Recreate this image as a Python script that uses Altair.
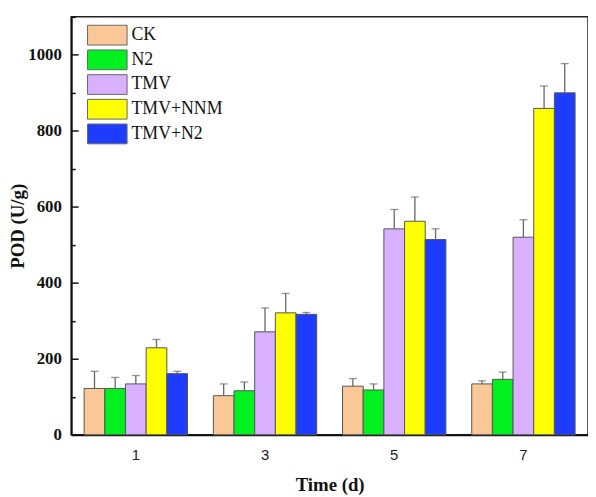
import altair as alt
import pandas as pd

days = ["1", "3", "5", "7"]
groups = ["CK", "N2", "TMV", "TMV+NNM", "TMV+N2"]
colors = ["#F9C896", "#00F020", "#D8B0FF", "#FFFF00", "#1E3CFF"]

values = {
    "CK":      [122, 103, 128, 134],
    "N2":      [122, 116, 118, 146],
    "TMV":     [134, 271, 542, 520],
    "TMV+NNM": [229, 321, 562, 859],
    "TMV+N2":  [161, 317, 514, 900],
}
errors = {
    "CK":      [45, 31, 20, 8],
    "N2":      [29, 23, 16, 19],
    "TMV":     [22, 63, 51, 46],
    "TMV+NNM": [22, 51, 64, 59],
    "TMV+N2":  [6, 5, 28, 77],
}

major_ticks = [0, 200, 400, 600, 800, 1000]
minor_ticks = [100, 300, 500, 700, 900, 1100]

rows = []
for g in groups:
    for i, d in enumerate(days):
        rows.append({"day": d, "group": g, "value": values[g][i],
                     "upper": values[g][i] + errors[g][i]})
df = pd.DataFrame(rows)

serif = "Liberation Serif"
yscale = alt.Scale(domain=[0, 1100], nice=False)
xenc = alt.X("day:N", sort=days, scale=alt.Scale(paddingInner=0.2, paddingOuter=0.1),
             axis=alt.Axis(title="Time (d)", labelAngle=0, ticks=False, labelFont="Liberation Sans",
                           labelFontSize=15, labelColor="#222", labelPadding=13,
                           titleFont=serif, titleFontSize=19, titleFontWeight="bold",
                           titleColor="#111", titlePadding=13, domainColor="#111", domainWidth=2))
xoff = alt.XOffset("group:N", sort=groups, scale=alt.Scale(paddingInner=0, paddingOuter=0))

base = alt.Chart(df)

bars = base.mark_bar(stroke="#555", strokeWidth=1).encode(
    x=xenc,
    xOffset=xoff,
    y=alt.Y("value:Q", scale=yscale,
            axis=alt.Axis(title="POD (U/g)", values=major_ticks, ticks=False, labelPadding=10,
                          format="d",
                          labelFont=serif, labelFontSize=17, labelFontWeight="bold", labelColor="#111",
                          titleFont=serif, titleFontSize=19, titleFontWeight="bold", titleColor="#111",
                          titlePadding=0, domainColor="#111", domainWidth=2, grid=False, orient="left")),
    color=alt.Color("group:N", sort=groups, scale=alt.Scale(domain=groups, range=colors),
                    legend=alt.Legend(title=None, orient="none", legendX=26, legendY=8,
                                      symbolType="M-2,-1H2V1H-2Z", symbolSize=400,
                                      symbolStrokeColor="#666", symbolStrokeWidth=1,
                                      symbolOpacity=1,
                                      labelFont=serif, labelFontSize=18, labelColor="#111",
                                      labelOffset=14, rowPadding=0)),
)

rules = base.mark_rule(color="#666", strokeWidth=1.3).encode(
    x=alt.X("day:N", sort=days), xOffset=xoff,
    y=alt.Y("value:Q", scale=yscale), y2="upper:Q")

caps = base.mark_tick(color="#666", thickness=1.3, size=8).encode(
    x=alt.X("day:N", sort=days), xOffset=xoff,
    y=alt.Y("upper:Q", scale=yscale))

major_df = pd.DataFrame({"t": major_ticks})
minor_df = pd.DataFrame({"t": minor_ticks})

major = alt.Chart(major_df).mark_point(opacity=0).encode(
    y=alt.Y("t:Q", scale=yscale,
            axis=alt.Axis(title=None, values=major_ticks, labels=False, domain=False, grid=False,
                          tickSize=7, tickWidth=1.5, tickColor="#111", offset=-7, orient="left")))
minor = alt.Chart(minor_df).mark_point(opacity=0).encode(
    y=alt.Y("t:Q", scale=yscale,
            axis=alt.Axis(title=None, values=minor_ticks, labels=False, domain=False, grid=False,
                          tickSize=4, tickWidth=1.5, tickColor="#111", offset=-4, orient="left")))

chart = alt.layer(bars, rules, caps, major, minor).resolve_scale(y="shared").resolve_axis(
    y="independent").properties(
    width=523, height=423,
    autosize=alt.AutoSizeParams(type="none"),
    padding={"left": 64, "top": 6, "right": 0, "bottom": 62},
).configure_view(stroke="#222", strokeWidth=1.5)

chart.save("out.html", embed_options={"renderer": "svg", "actions": False})
